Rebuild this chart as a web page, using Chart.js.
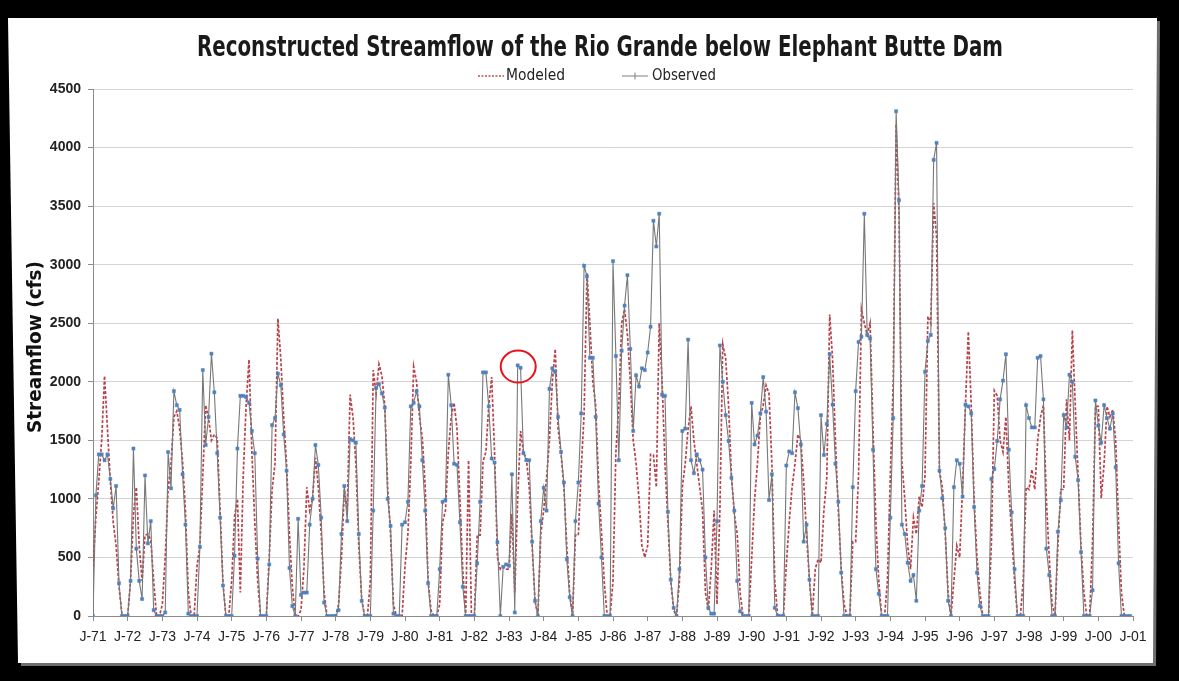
<!DOCTYPE html>
<html>
<head>
<meta charset="utf-8">
<script src="https://cdn.jsdelivr.net/npm/chart.js@4.4.0/dist/chart.umd.min.js"></script>
<style>
  html, body { margin: 0; padding: 0; background: #000; }
  canvas { display: block; }
</style>
</head>
<body>
<canvas id="flow" width="1179" height="681"></canvas>
<script>
// x tick labels, one per January 1971..2001
const tickLabels = ['J-71','J-72','J-73','J-74','J-75','J-76','J-77','J-78','J-79','J-80',
  'J-81','J-82','J-83','J-84','J-85','J-86','J-87','J-88','J-89','J-90',
  'J-91','J-92','J-93','J-94','J-95','J-96','J-97','J-98','J-99','J-00','J-01'];

// monthly streamflow (cfs), one row per year, Jan..Dec
const observed = [
  0, 1030, 1380, 1380, 1330, 1380, 1170, 920, 1110, 280, 0, 0,        // 1971
  0, 300, 1430, 575, 300, 145, 1200, 620, 810, 50, 0, 0,              // 1972
  0, 30, 1400, 1090, 1920, 1800, 1760, 1210, 780, 20, 0, 0,           // 1973
  0, 590, 2100, 1460, 1700, 2240, 1910, 1390, 840, 260, 0, 0,         // 1974
  0, 515, 1430, 1880, 1880, 1870, 1820, 1580, 1390, 490, 0, 0,        // 1975
  0, 440, 1630, 1690, 2070, 1970, 1550, 1240, 410, 85, 0, 830,        // 1976
  180, 200, 200, 780, 1000, 1460, 1290, 840, 115, 0, 0, 0,            // 1977
  0, 50, 700, 1110, 810, 1510, 1500, 1480, 700, 130, 0, 0,            // 1978
  0, 900, 1950, 1980, 1900, 1780, 1000, 770, 20, 0, 0, 780,           // 1979
  800, 975, 1790, 1820, 1920, 1790, 1330, 900, 280, 0, 0, 0,          // 1980
  400, 975, 990, 2060, 1800, 1300, 1290, 800, 250, 0, 0, 0,           // 1981
  0, 450, 975, 2080, 2080, 1790, 1345, 1310, 630, 0, 420, 440,        // 1982
  430, 1210, 30, 2140, 2120, 1390, 1330, 1330, 635, 130, 0, 810,      // 1983
  1095, 900, 1940, 2115, 2085, 1700, 1400, 1140, 485, 160, 0, 810,    // 1984
  1140, 1730, 2990, 2900, 2205, 2205, 1700, 960, 500, 0, 0, 0,        // 1985
  3030, 2220, 1330, 2265, 2650, 2910, 2280, 1580, 2055, 1960, 2115, 2100, // 1986
  2250, 2470, 3375, 3155, 3435, 1890, 1880, 890, 310, 70, 0, 400,     // 1987
  1580, 1600, 2360, 1330, 1220, 1380, 1330, 1250, 500, 70, 20, 20,    // 1988
  810, 2310, 2000, 1715, 1495, 1180, 900, 300, 40, 0, 0, 0,           // 1989
  1820, 1465, 1540, 1730, 2040, 1745, 990, 1210, 70, 0, 0, 0,         // 1990
  1285, 1405, 1390, 1910, 1775, 1465, 635, 780, 310, 0, 0, 0,         // 1991
  1715, 1375, 1640, 2235, 1805, 1300, 975, 370, 0, 0, 0, 1100,        // 1992
  1920, 2340, 2385, 3435, 2400, 2370, 1420, 400, 190, 0, 0, 0,        // 1993
  840, 1690, 4310, 3550, 780, 700, 455, 300, 350, 130, 900, 1110,     // 1994
  2085, 2350, 2400, 3895, 4040, 1240, 1005, 750, 130, 0, 1100, 1330,  // 1995
  1300, 1020, 1805, 1790, 1730, 930, 370, 85, 0, 0, 0, 1170,          // 1996
  1255, 1495, 1850, 2010, 2235, 1420, 885, 400, 0, 0, 0, 1800,        // 1997
  1690, 1610, 1610, 2205, 2220, 1850, 575, 350, 0, 0, 720, 990,       // 1998
  1715, 1610, 2060, 2000, 1360, 1160, 545, 0, 0, 0, 220, 1840,        // 1999
  1625, 1480, 1800, 1690, 1600, 1730, 1270, 450, 0, 0, 0, 0           // 2000
];

const modeled = [
  420, 850, 1150, 1500, 2050, 1600, 1150, 800, 600, 250, 20, 0,       // 1971
  0, 300, 870, 1100, 600, 300, 690, 700, 650, 300, 0, 0,              // 1972
  100, 500, 1080, 1300, 1700, 1750, 1600, 1320, 900, 200, 0, 0,       // 1973
  425, 600, 1200, 1800, 1690, 1500, 1550, 1520, 900, 280, 0, 0,       // 1974
  300, 850, 1000, 200, 1200, 1800, 2190, 1400, 800, 300, 0, 0,        // 1975
  0, 500, 1080, 1300, 2540, 2200, 1700, 1300, 700, 250, 0, 0,         // 1976
  50, 400, 1100, 900, 1000, 1350, 1100, 700, 200, 0, 0, 0,            // 1977
  0, 100, 485, 1080, 900, 1890, 1700, 1300, 600, 150, 0, 0,           // 1978
  300, 2100, 1900, 2150, 2050, 1800, 1100, 700, 100, 0, 0, 0,         // 1979
  425, 700, 1300, 2130, 2000, 1700, 1520, 1100, 300, 50, 0, 0,        // 1980
  100, 800, 900, 1400, 1700, 1820, 1600, 1000, 400, 0, 1330, 0,       // 1981
  0, 690, 690, 1320, 1400, 1800, 2040, 1400, 500, 400, 420, 400,      // 1982
  400, 870, 200, 1000, 1580, 1400, 1345, 1100, 600, 130, 0, 700,      // 1983
  900, 1180, 1500, 2000, 2280, 1600, 1390, 1100, 600, 200, 0, 690,    // 1984
  690, 1255, 1730, 2930, 2500, 2000, 1800, 1150, 720, 280, 0, 0,      // 1985
  300, 1400, 1800, 2500, 2620, 2400, 2000, 1500, 1300, 1000, 600, 500, // 1986
  600, 1380, 1375, 1100, 2500, 2000, 1300, 800, 300, 50, 0, 300,      // 1987
  1100, 1300, 1600, 1790, 1500, 1300, 1100, 900, 200, 50, 400, 900,   // 1988
  100, 900, 2320, 2200, 1800, 1200, 870, 700, 200, 0, 0, 0,           // 1989
  485, 990, 1300, 1700, 1800, 1970, 1900, 1300, 300, 0, 0, 0,         // 1990
  440, 800, 1100, 1300, 1550, 1500, 1150, 700, 300, 0, 400, 485,      // 1991
  455, 900, 1180, 2575, 2200, 1500, 900, 400, 100, 0, 0, 635,         // 1992
  635, 1200, 2620, 2500, 2400, 2500, 1600, 800, 300, 0, 0, 300,       // 1993
  1200, 2000, 4200, 3450, 1315, 1000, 600, 400, 840, 700, 1020, 930,  // 1994
  1200, 2560, 2500, 3525, 3240, 1240, 1100, 700, 200, 0, 300, 600,    // 1995
  500, 1100, 1800, 2430, 1800, 1000, 500, 200, 0, 0, 0, 635,          // 1996
  1925, 1880, 1500, 1400, 1700, 1100, 700, 300, 0, 0, 300, 1100,      // 1997
  1080, 1250, 1080, 1500, 1700, 1800, 1000, 500, 100, 0, 600, 1080,   // 1998
  1080, 1850, 1500, 2440, 1800, 1200, 600, 200, 0, 0, 635, 1790,      // 1999
  1790, 1005, 1300, 1790, 1700, 1760, 1500, 800, 200, 0, 0, 0         // 2000
];

// the circled point (month index, value)
const highlight = { month: 146.5, value: 2130 };

const TITLE = 'Reconstructed Streamflow of the Rio Grande below Elephant Butte Dam';
const NARROW = "'Liberation Sans Narrow', 'DejaVu Sans Condensed', 'Liberation Sans', sans-serif";
const SANS = "'Liberation Sans', Arial, sans-serif";

// draw text squeezed/stretched to a given width
function fitText(ctx, text, x, y, width) {
  const w = ctx.measureText(text).width;
  ctx.save();
  ctx.translate(x, y);
  ctx.scale(width / w, 1);
  ctx.fillText(text, 0, 0);
  ctx.restore();
}

const frame = {
  id: 'frame',
  beforeDraw(chart) {
    const ctx = chart.ctx;
    ctx.save();
    ctx.fillStyle = '#000';
    ctx.fillRect(0, 0, chart.width, chart.height);
    // slide shadow
    ctx.fillStyle = '#6e6e6e';
    ctx.beginPath();
    ctx.moveTo(11, 21); ctx.lineTo(1160, 21); ctx.lineTo(1156, 666); ctx.lineTo(21, 666);
    ctx.closePath(); ctx.fill();
    // white slide
    ctx.fillStyle = '#fff';
    ctx.beginPath();
    ctx.moveTo(8, 18); ctx.lineTo(1157, 18); ctx.lineTo(1153, 663); ctx.lineTo(18, 663);
    ctx.closePath(); ctx.fill();
    ctx.restore();
  },
  afterDraw(chart) {
    const ctx = chart.ctx;
    const { x, y } = chart.scales;
    ctx.save();
    // red circle around one observed peak
    ctx.strokeStyle = '#e8141b';
    ctx.lineWidth = 2;
    ctx.beginPath();
    ctx.ellipse(x.getPixelForValue(highlight.month) + 2, y.getPixelForValue(highlight.value),
      17.5, 16, 0, 0, Math.PI * 2);
    ctx.stroke();
    // title
    ctx.fillStyle = '#1a1a1a';
    ctx.font = "bold 28px " + NARROW;
    ctx.textBaseline = 'alphabetic';
    fitText(ctx, TITLE, 197, 56, 806);
    // legend
    ctx.font = "15px " + NARROW;
    ctx.fillStyle = '#222';
    ctx.textBaseline = 'middle';
    ctx.strokeStyle = '#c0504d';
    ctx.lineWidth = 1.6;
    ctx.setLineDash([2, 1.5]);
    ctx.beginPath(); ctx.moveTo(478, 76); ctx.lineTo(504, 76); ctx.stroke();
    ctx.setLineDash([]);
    fitText(ctx, 'Modeled', 506, 76, 59);
    ctx.strokeStyle = '#7f7f7f';
    ctx.lineWidth = 1;
    ctx.beginPath(); ctx.moveTo(622, 76); ctx.lineTo(648, 76); ctx.stroke();
    ctx.beginPath(); ctx.moveTo(635, 72.5); ctx.lineTo(635, 79.5); ctx.stroke();
    fitText(ctx, 'Observed', 652, 76, 64);
    // y axis title
    ctx.font = "bold 19px " + NARROW;
    ctx.fillStyle = '#111';
    ctx.translate(36, 347);
    ctx.rotate(-Math.PI / 2);
    fitText(ctx, 'Streamflow (cfs)', -86, 0, 172);
    ctx.restore();
  }
};

new Chart(document.getElementById('flow'), {
  type: 'line',
  data: {
    datasets: [
      {
        label: 'Observed',
        data: observed.map((v, i) => ({ x: i, y: v })),
        borderColor: '#787878',
        borderWidth: 1.1,
        pointStyle: 'rect',
        pointRadius: 2.2,
        pointBackgroundColor: '#4f81bd',
        pointBorderColor: '#4f81bd',
        pointBorderWidth: 0.5,
        tension: 0,
        order: 1
      },
      {
        label: 'Modeled',
        data: modeled.map((v, i) => ({ x: i, y: v })),
        borderColor: '#b8414a',
        borderWidth: 1.7,
        borderDash: [3, 1.8],
        pointRadius: 0,
        tension: 0,
        order: 2
      }
    ]
  },
  options: {
    responsive: false,
    animation: false,
    layout: { padding: { left: 0, top: 89, right: 46, bottom: 0 } },
    plugins: { legend: { display: false }, title: { display: false }, tooltip: { enabled: false } },
    scales: {
      x: {
        type: 'linear',
        min: 0,
        max: 360,
        afterFit(scale) { scale.height = 65; },
        grid: { drawOnChartArea: false, drawTicks: true, tickLength: 5, color: '#8c8c8c' },
        border: { display: true, color: '#8c8c8c' },
        ticks: {
          stepSize: 12,
          autoSkip: false,
          maxRotation: 0,
          padding: 8,
          color: '#222',
          font: { family: SANS, size: 14 },
          callback: v => tickLabels[v / 12]
        }
      },
      y: {
        min: 0,
        max: 4500,
        afterFit(scale) { scale.width = 93; },
        grid: { color: '#d4d4d4', tickLength: 5, tickColor: '#8c8c8c' },
        border: { display: true, color: '#8c8c8c' },
        ticks: {
          stepSize: 500,
          padding: 7,
          color: '#222',
          font: { family: SANS, size: 14, weight: 'bold' },
          callback: v => String(v)
        }
      }
    }
  },
  plugins: [frame]
});
</script>
</body>
</html>
